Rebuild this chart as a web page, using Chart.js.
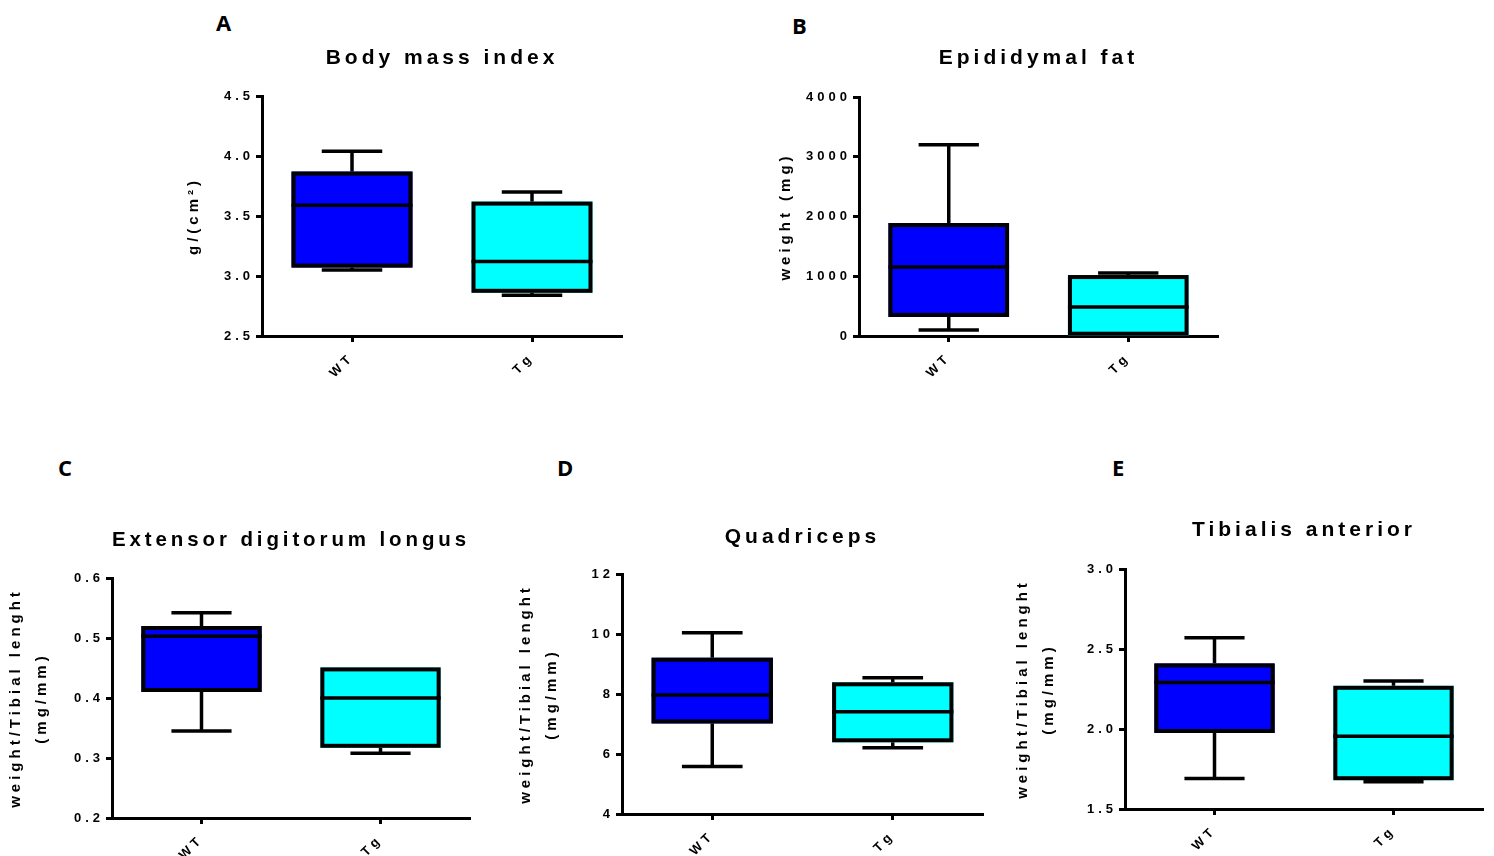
<!DOCTYPE html>
<html>
<head>
<meta charset="utf-8">
<script src="https://cdn.jsdelivr.net/npm/chart.js@4.4.1/dist/chart.umd.min.js"></script>
<style>
  body { margin: 0; width: 1494px; height: 856px; overflow: hidden; background: #fff; position: relative; }
  .letter { position: absolute; font-family: "Open Sans", sans-serif; font-weight: 700; font-size: 22px; line-height: 22px; color: #000; }
</style>
</head>
<body>
<div class="letter" style="left:216px;top:11px">A</div>
<div class="letter" style="left:792px;top:14px">B</div>
<div class="letter" style="left:58px;top:456px">C</div>
<div class="letter" style="left:557px;top:456px">D</div>
<div class="letter" style="left:1112px;top:456px">E</div>
<script>
// groups on the x axis
const groups = ["WT", "Tg"];

// A - body mass index, g/(cm2)
const bmiMin = [3.05, 2.84];
const bmiQ1 = [3.07, 2.86];
const bmiMed = [3.59, 3.12];
const bmiQ3 = [3.87, 3.62];
const bmiMax = [4.04, 3.70];
const bmiTicks = [2.5, 3.0, 3.5, 4.0, 4.5];

// B - epididymal fat, mg
const fatMin = [100, 0];
const fatQ1 = [320, 5];
const fatMed = [1155, 485];
const fatQ3 = [1890, 1020];
const fatMax = [3200, 1055];
const fatTicks = [0, 1000, 2000, 3000, 4000];

// C - extensor digitorum longus, mg/mm
const edlMin = [0.345, 0.308];
const edlQ1 = [0.41, 0.317];
const edlMed = [0.503, 0.40];
const edlQ3 = [0.52, 0.451];
const edlMax = [0.542, 0.451];
const edlTicks = [0.2, 0.3, 0.4, 0.5, 0.6];

// D - quadriceps, mg/mm
const quadMin = [5.58, 6.21];
const quadQ1 = [7.02, 6.39];
const quadMed = [7.97, 7.41];
const quadQ3 = [9.21, 8.39];
const quadMax = [10.04, 8.54];
const quadTicks = [4, 6, 8, 10, 12];

// E - tibialis anterior, mg/mm
const taMin = [1.69, 1.67];
const taQ1 = [1.975, 1.68];
const taMed = [2.29, 1.955];
const taQ3 = [2.41, 2.27];
const taMax = [2.57, 2.30];
const taTicks = [1.5, 2.0, 2.5, 3.0];

const boxColors = ["#0000ff", "#00ffff"];
const oneDec = v => Number(v).toFixed(1);
const noDec = v => String(Math.round(v));

// box outline, whiskers, caps and median drawn from the data through the y scale
const boxPlugin = {
  id: "boxWhiskers",
  beforeDraw(chart) {
    chart.ctx.letterSpacing = "4px";
  },
  afterDatasetsDraw(chart) {
    const ds = chart.data.datasets[0];
    const y = chart.scales.y;
    const ctx = chart.ctx;
    const line = (x1, y1, x2, y2) => { ctx.beginPath(); ctx.moveTo(x1, y1); ctx.lineTo(x2, y2); ctx.stroke(); };
    ctx.save();
    ctx.strokeStyle = "#000";
    ctx.lineCap = "butt";
    chart.getDatasetMeta(0).data.forEach((bar, i) => {
      const x = bar.x, w = bar.width;
      const pMin = y.getPixelForValue(ds.whiskMin[i]);
      const pMax = y.getPixelForValue(ds.whiskMax[i]);
      const pQ1 = y.getPixelForValue(ds.data[i][0]);
      const pQ3 = y.getPixelForValue(ds.data[i][1]);
      const pMed = y.getPixelForValue(ds.median[i]);
      ctx.lineWidth = 3.5;
      if (pMax < pQ3 - 1) {
        line(x, pQ3, x, pMax);
        line(x - w / 4, pMax, x + w / 4, pMax);
      }
      if (pMin > pQ1 + 1) {
        line(x, pQ1, x, pMin);
        line(x - w / 4, pMin, x + w / 4, pMin);
      }
      line(x - w / 2, pMed, x + w / 2, pMed);
      ctx.lineWidth = 4;
      ctx.strokeRect(x - w / 2 + 2, pQ3 + 2, w - 4, pQ1 - pQ3 - 4);
    });
    ctx.restore();
  }
};

const panels = [
  { title: "Body mass index", yTitle: "g/(cm²)", min: bmiMin, q1: bmiQ1, med: bmiMed, q3: bmiQ3, max: bmiMax, ticks: bmiTicks, fmt: oneDec,
    left: 150, top: 0, axisX: 262, plotRight: 622, plotTop: 96, plotBottom: 336, titleY: 58, yTitleX: 194 },
  { title: "Epididymal fat", yTitle: "weight (mg)", min: fatMin, q1: fatQ1, med: fatMed, q3: fatQ3, max: fatMax, ticks: fatTicks, fmt: noDec,
    left: 750, top: 0, axisX: 859, plotRight: 1218, plotTop: 97, plotBottom: 336, titleY: 58, yTitleX: 786 },
  { title: "Extensor digitorum longus", yTitle: ["weight/Tibial lenght", "(mg/mm)"], min: edlMin, q1: edlQ1, med: edlMed, q3: edlQ3, max: edlMax, ticks: edlTicks, fmt: oneDec,
    left: 0, top: 440, axisX: 112, plotRight: 470, plotTop: 578, plotBottom: 818, titleY: 540, yTitleX: 16 },
  { title: "Quadriceps", yTitle: ["weight/Tibial lenght", "(mg/mm)"], min: quadMin, q1: quadQ1, med: quadMed, q3: quadQ3, max: quadMax, ticks: quadTicks, fmt: noDec,
    left: 500, top: 440, axisX: 622, plotRight: 983, plotTop: 574, plotBottom: 814, titleY: 537, yTitleX: 526 },
  { title: "Tibialis anterior", yTitle: ["weight/Tibial lenght", "(mg/mm)"], min: taMin, q1: taQ1, med: taMed, q3: taQ3, max: taMax, ticks: taTicks, fmt: oneDec,
    left: 1000, top: 440, axisX: 1125, plotRight: 1483, plotTop: 569, plotBottom: 809, titleY: 530, yTitleX: 1023 }
];

Chart.defaults.font.family = "'Liberation Sans', Arial, sans-serif";
Chart.defaults.font.weight = "bold";
Chart.defaults.color = "#000";

function makePanel(p) {
  const canvas = document.createElement("canvas");
  const w = p.plotRight + 10 - p.left;
  const h = p.plotBottom - p.top + 60;
  canvas.width = w;
  canvas.height = h;
  canvas.style.cssText = `position:absolute;left:${p.left}px;top:${p.top}px;width:${w}px;height:${h}px`;
  document.body.appendChild(canvas);

  const twoLines = Array.isArray(p.yTitle);
  const yLine = twoLines ? 26 : 18;
  const axisGrid = { display: true, drawOnChartArea: false, offset: false, tickLength: 6, tickWidth: 3, tickColor: "#000" };
  const axisBorder = { display: true, width: 3, color: "#000" };

  new Chart(canvas, {
    type: "bar",
    data: {
      labels: groups,
      datasets: [{
        data: p.q1.map((v, i) => [v, p.q3[i]]),
        whiskMin: p.min,
        whiskMax: p.max,
        median: p.med,
        backgroundColor: boxColors,
        borderWidth: 0,
        barPercentage: 0.672,
        categoryPercentage: 1
      }]
    },
    options: {
      responsive: false,
      animation: false,
      events: [],
      layout: { padding: { left: 0, top: 0, right: 10, bottom: 0 } },
      plugins: {
        legend: { display: false },
        tooltip: { enabled: false },
        title: {
          display: true,
          text: p.title,
          fullSize: false,
          color: "#000",
          font: { size: 21, weight: "bold", lineHeight: 1.2 },
          padding: { top: p.titleY - p.top - 12.6, bottom: p.plotTop - p.titleY - 12.6 }
        }
      },
      scales: {
        x: {
          grid: axisGrid,
          border: axisBorder,
          ticks: { minRotation: 45, maxRotation: 45, padding: 8, color: "#000", font: { size: 13, weight: "bold" } },
          afterFit(s) { s.height = 60; }
        },
        y: {
          min: p.ticks[0],
          max: p.ticks[p.ticks.length - 1],
          afterBuildTicks(s) { s.ticks = p.ticks.map(v => ({ value: v })); },
          grid: axisGrid,
          border: axisBorder,
          ticks: { padding: 2, color: "#000", font: { size: 13, weight: "bold" }, callback: v => p.fmt(v) },
          title: {
            display: true,
            text: p.yTitle,
            color: "#000",
            font: { size: 15, weight: "bold", lineHeight: yLine / 15 },
            padding: { top: p.yTitleX - p.left - yLine / 2, bottom: 0 }
          },
          afterFit(s) { s.width = p.axisX - p.left; }
        }
      }
    },
    plugins: [boxPlugin]
  });
}

panels.forEach(makePanel);
</script>
</body>
</html>
